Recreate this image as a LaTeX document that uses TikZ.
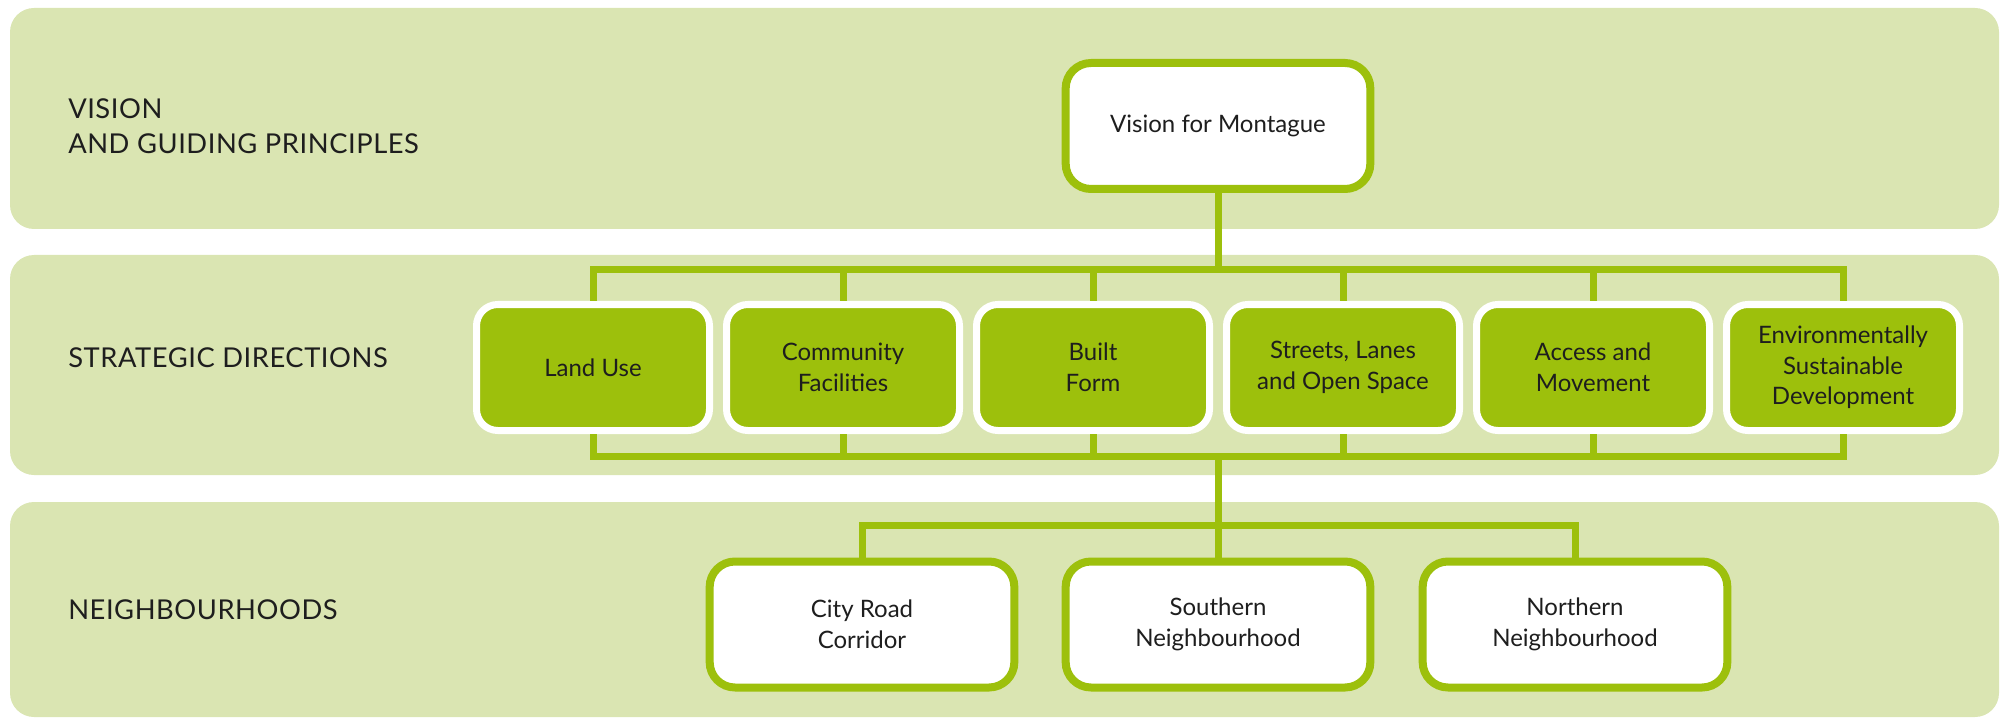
\documentclass[tikz,border=0pt]{standalone}
\usepackage{fontspec}
\setmainfont{Lato}
\usepackage{tikz}

\begin{document}
\begin{tikzpicture}[x=0.75pt,y=0.75pt,yscale=-1,xscale=1,
    band/.style={fill={rgb, 255:red, 218; green, 229; blue, 178}, rounded corners=18pt},
    whitebox/.style={draw={rgb, 255:red, 157; green, 192; blue, 12}, fill=white, line width=6pt, rounded corners=19pt, minimum width=228.5pt, minimum height=94.5pt, inner sep=0pt, align=center, text={rgb, 255:red, 30; green, 30; blue, 30}, font=\fontsize{18}{23}\selectfont},
    greenbox/.style={draw=white, fill={rgb, 255:red, 157; green, 192; blue, 12}, line width=5.25pt, rounded corners=16pt, minimum width=174.75pt, minimum height=94.5pt, inner sep=0pt, align=center, text={rgb, 255:red, 30; green, 30; blue, 30}, font=\fontsize{18}{23}\selectfont},
    bus/.style={draw={rgb, 255:red, 157; green, 192; blue, 12}, line width=5.25pt},
    rowlabel/.style={anchor=west, align=left, inner sep=0pt, text={rgb, 255:red, 30; green, 30; blue, 30}, font=\fontsize{20.5}{26.5}\selectfont\addfontfeatures{LetterSpace=2}}]
    \useasboundingbox (0,0) rectangle (2002,720);

    %Shape: Bands
    \path [band] (10,8) rectangle (1999,229);
    \path [band] (10,255) rectangle (1999,475);
    \path [band] (10,502) rectangle (1999,717);

    % Text Node
    \node [rowlabel] (lblvision) at (68,126) {VISION\\AND GUIDING PRINCIPLES};
    % Text Node
    \node [rowlabel] (lblstrat) at (68,358) {STRATEGIC DIRECTIONS};
    % Text Node
    \node [rowlabel] (lblnbh) at (68,610) {NEIGHBOURHOODS};

    %Boxes
    \node [whitebox] (vis) at (1218,126) {Vision for Montague};
    \foreach \i/\txt in {1/Land Use, 2/{Community\\Facilities}, 3/{Built\\Form}, 4/{Streets, Lanes\\and Open Space}, 5/{Access and\\Movement}, 6/{Environmentally\\Sustainable\\Development}}
        \node [greenbox] (sd\i) at ({343+250*\i},367.5) {\txt};
    \node [whitebox] (nb1) at (862,624.5) {City Road\\Corridor};
    \node [whitebox] (nb2) at (1218,624.5) {Southern\\Neighbourhood};
    \node [whitebox] (nb3) at (1575,624.5) {Northern\\Neighbourhood};

    %Connectors
    \coordinate (topbus) at (1218,269.5);
    \coordinate (lowbus) at (1218,456.5);
    \coordinate (nbbus) at (1218,525);
    \draw [bus] (vis.south) -- (topbus);
    \draw [bus] (sd1.north) |- (topbus) -| (sd6.north);
    \draw [bus] (sd1.south) |- (lowbus) -| (sd6.south);
    \foreach \i in {2,...,5} {
        \draw [bus] (sd\i.north) -- (sd\i.north |- topbus);
        \draw [bus] (sd\i.south) -- (sd\i.south |- lowbus);
    }
    \draw [bus] (lowbus) -- (nbbus);
    \draw [bus] (nb1.north) |- (nbbus) -| (nb3.north);
    \draw [bus] (nb2.north) -- (nbbus);

\end{tikzpicture}
\end{document}
